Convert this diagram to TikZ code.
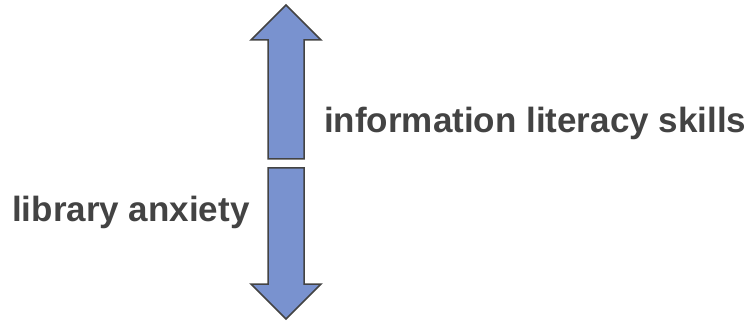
\documentclass[tikz,border=0pt]{standalone}
\usepackage{fontspec}
\setmainfont{Liberation Sans}
\usetikzlibrary{positioning}

\definecolor{arrowblue}{RGB}{121,146,207}
\definecolor{textgray}{RGB}{67,67,67}

\begin{document}
\begin{tikzpicture}[x=1pt,y=1pt,
    BlockArrow/.style={fill=arrowblue,draw=textgray,line width=1.5pt,line join=miter},
    Label/.style={text=textgray,font=\fontsize{35}{40}\selectfont\bfseries,inner sep=0pt,anchor=base west}]
  \useasboundingbox (0,0) rectangle (751,321);
  % upper arrow (pointing up)
  \draw[BlockArrow] (286,316) -- (321,281) -- (304,281) -- (304,162)
    -- (268,162) -- (268,281) -- (251,281) -- cycle;
  % lower arrow (pointing down)
  \draw[BlockArrow] (286,2) -- (321,37) -- (304,37) -- (304,153)
    -- (268,153) -- (268,37) -- (251,37) -- cycle;
  \coordinate (skills) at (324,188);
  \coordinate (anxiety) at (12,99);
  \node[Label] (s) at (skills) {information literacy skills};
  \node[Label] (a) at (anxiety) {library anxiety};
\end{tikzpicture}
\end{document}
